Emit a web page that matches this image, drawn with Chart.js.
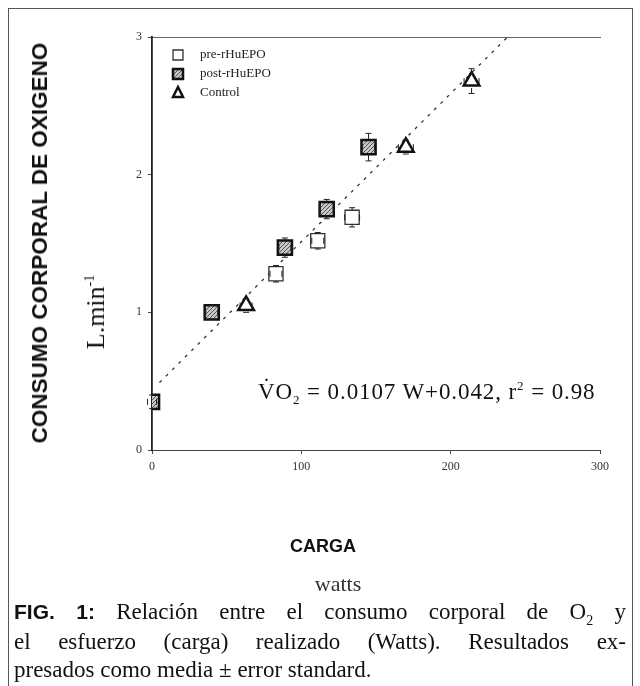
<!DOCTYPE html>
<html>
<head>
<meta charset="utf-8">
<script src="https://cdn.jsdelivr.net/npm/chart.js@4.4.0/dist/chart.umd.min.js"></script>
<style>
  body { margin: 0; width: 640px; height: 686px; overflow: hidden; background: #fff; position: relative; color: #111; }
  #frame { position: absolute; left: 8px; top: 8px; width: 623px; height: 700px; border: 1px solid #555; }
  #c { position: absolute; left: 0; top: 0; }
  .t { position: absolute; white-space: nowrap; }
  .serif { font-family: "Liberation Serif", "DejaVu Serif", serif; }
  .sans { font-family: "Liberation Sans", Arial, sans-serif; font-weight: bold; }
  .cap { position: absolute; left: 14px; width: 612px; height: 26px; line-height: 26px; font-family: "Liberation Serif", serif; font-size: 23px; text-align: justify; text-align-last: justify; white-space: nowrap; }
</style>
</head>
<body>
<div id="frame"></div>
<canvas id="c" width="640" height="686"></canvas>

<div class="t sans" style="left:40px;top:243px;font-size:22.5px;transform:translate(-50%,-50%) rotate(-90deg);">CONSUMO CORPORAL DE OXIGENO</div>
<div class="t serif" style="left:96px;top:312px;font-size:26px;transform:translate(-50%,-50%) rotate(-90deg);">L.min<sup style="font-size:14px">-1</sup></div>
<div class="t serif" style="left:258px;top:378px;font-size:23px;letter-spacing:0.9px;">V&#775;O<sub style="font-size:13px">2</sub> = 0.0107 W+0.042, r<sup style="font-size:13px">2</sup> = 0.98</div>
<div class="t sans" style="left:323px;top:546px;font-size:18px;transform:translate(-50%,-50%);">CARGA</div>
<div class="t serif" style="left:338px;top:584px;font-size:22px;transform:translate(-50%,-50%);color:#333;">watts</div>
<div class="cap" style="top:599px;"><span class="sans" style="font-size:21px">FIG. 1:</span> Relación entre el consumo corporal de O<sub style="font-size:14px;line-height:0">2</sub> y</div>
<div class="cap" style="top:629px;">el esfuerzo (carga) realizado (Watts). Resultados ex-</div>
<div class="cap" style="top:657px;text-align-last:left;">presados como media ± error standard.</div>

<script>
// datos (watts, L/min)
const seriesNames = ['pre-rHuEPO', 'post-rHuEPO', 'Control'];
const preX = [83, 111, 134];
const preY = [1.28, 1.52, 1.69];
const preErrX = [4, 4, 5];
const preErrY = [0.06, 0.06, 0.07];
const postX = [0, 40, 89, 117, 145];
const postY = [0.35, 1.00, 1.47, 1.75, 2.20];
const postErrX = [3, 4, 4, 5, 4];
const postErrY = [0.05, 0.05, 0.07, 0.07, 0.10];
const ctrlX = [63, 170, 214];
const ctrlY = [1.05, 2.20, 2.68];
const ctrlErrX = [4, 5, 5];
const ctrlErrY = [0.05, 0.05, 0.09];
// recta de regresion tal como esta dibujada (extremos)
const fitX = [5, 240];
const fitY = [0.49, 3.02];
const xTicks = [0, 100, 200, 300];
const yTicks = [0, 1, 2, 3];

function pts(xs, ys) { return xs.map((x, i) => ({ x: x, y: ys[i] })); }

// trama rayada para post-rHuEPO
const pc = document.createElement('canvas');
pc.width = 4; pc.height = 4;
const pctx = pc.getContext('2d');
pctx.fillStyle = '#c8c8c8';
pctx.fillRect(0, 0, 4, 4);
pctx.strokeStyle = '#555';
pctx.lineWidth = 1;
pctx.beginPath(); pctx.moveTo(0, 4); pctx.lineTo(4, 0); pctx.stroke();
const hatch = document.getElementById('c').getContext('2d').createPattern(pc, 'repeat');

const errorBars = {
  id: 'errorBars',
  afterDatasetsDraw(chart) {
    const ctx = chart.ctx, xs = chart.scales.x, ys = chart.scales.y;
    ctx.save();
    ctx.strokeStyle = '#222';
    ctx.lineWidth = 1;
    chart.data.datasets.forEach(ds => {
      if (!ds.errY) return;
      ds.data.forEach((p, i) => {
        const px = xs.getPixelForValue(p.x), py = ys.getPixelForValue(p.y);
        const y1 = ys.getPixelForValue(p.y + ds.errY[i]), y0 = ys.getPixelForValue(p.y - ds.errY[i]);
        const x1 = xs.getPixelForValue(p.x + ds.errX[i]), x0 = xs.getPixelForValue(p.x - ds.errX[i]);
        ctx.beginPath();
        ctx.moveTo(px, y1); ctx.lineTo(px, py - 7);
        ctx.moveTo(px, y0); ctx.lineTo(px, py + 7);
        ctx.moveTo(px - 3, y1); ctx.lineTo(px + 3, y1);
        ctx.moveTo(px - 3, y0); ctx.lineTo(px + 3, y0);
        ctx.moveTo(x1, py - 3); ctx.lineTo(x1, py + 3);
        ctx.moveTo(x0, py - 3); ctx.lineTo(x0, py + 3);
        ctx.stroke();
      });
    });
    ctx.restore();
  }
};

const legendBox = {
  id: 'legendBox',
  afterDraw(chart) {
    const ctx = chart.ctx;
    const left = chart.chartArea.left + 26, top = chart.chartArea.top + 18;
    ctx.save();
    ctx.font = '13px "Liberation Serif", serif';
    ctx.textBaseline = 'middle';
    chart.data.datasets.slice(0, 3).forEach((ds, i) => {
      const y = top + i * 19;
      ctx.fillStyle = ds.backgroundColor;
      ctx.strokeStyle = ds.borderColor;
      ctx.lineWidth = ds.borderWidth;
      ctx.beginPath();
      if (ds.pointStyle === 'triangle') {
        ctx.moveTo(left, y - 6); ctx.lineTo(left + 5, y + 4); ctx.lineTo(left - 5, y + 4); ctx.closePath();
      } else {
        ctx.rect(left - 5, y - 5, 10, 10);
      }
      ctx.fill(); ctx.stroke();
      ctx.fillStyle = '#222';
      ctx.fillText(ds.label, left + 22, y);
    });
    ctx.restore();
  }
};

new Chart(document.getElementById('c'), {
  type: 'scatter',
  data: {
    datasets: [
      { label: seriesNames[0], data: pts(preX, preY), errX: preErrX, errY: preErrY,
        pointStyle: 'rect', pointRadius: 10, backgroundColor: '#fff', borderColor: '#333', borderWidth: 1.3 },
      { label: seriesNames[1], data: pts(postX, postY), errX: postErrX, errY: postErrY,
        pointStyle: 'rect', pointRadius: 10, backgroundColor: hatch, borderColor: '#111', borderWidth: 2.5 },
      { label: seriesNames[2], data: pts(ctrlX, ctrlY), errX: ctrlErrX, errY: ctrlErrY,
        pointStyle: 'triangle', pointRadius: 9, backgroundColor: '#fff', borderColor: '#111', borderWidth: 2.5 },
      { type: 'line', label: 'ajuste', data: pts(fitX, fitY), borderColor: '#333', borderWidth: 1.3,
        borderDash: [3, 6], pointRadius: [0, 3], pointStyle: 'cross', fill: false }
    ]
  },
  options: {
    responsive: false,
    animation: false,
    layout: { padding: { left: 122, top: 37, right: 40, bottom: 206 } },
    plugins: { legend: { display: false }, tooltip: { enabled: false } },
    scales: {
      x: {
        type: 'linear', min: 0, max: 300,
        afterBuildTicks: s => { s.ticks = xTicks.map(v => ({ value: v })); },
        afterFit: s => { s.height = 30; },
        grid: { display: true, drawOnChartArea: false, tickLength: 4, color: '#444' },
        border: { display: true, color: '#444', width: 1 },
        ticks: { font: { family: '"Liberation Serif", serif', size: 12 }, color: '#333', padding: 6 }
      },
      x2: {
        type: 'linear', position: 'top', min: 0, max: 300,
        afterFit: s => { s.height = 0; },
        grid: { display: false },
        border: { display: true, color: '#666', width: 1 },
        ticks: { display: false }
      },
      y: {
        type: 'linear', min: 0, max: 3,
        afterBuildTicks: s => { s.ticks = yTicks.map(v => ({ value: v })); },
        afterFit: s => { s.width = 30; },
        grid: { display: true, drawOnChartArea: false, tickLength: 4, color: '#444' },
        border: { display: true, color: '#222', width: 1.8 },
        ticks: { font: { family: '"Liberation Serif", serif', size: 12 }, color: '#333', padding: 6 }
      }
    }
  },
  plugins: [errorBars, legendBox]
});
</script>
</body>
</html>
